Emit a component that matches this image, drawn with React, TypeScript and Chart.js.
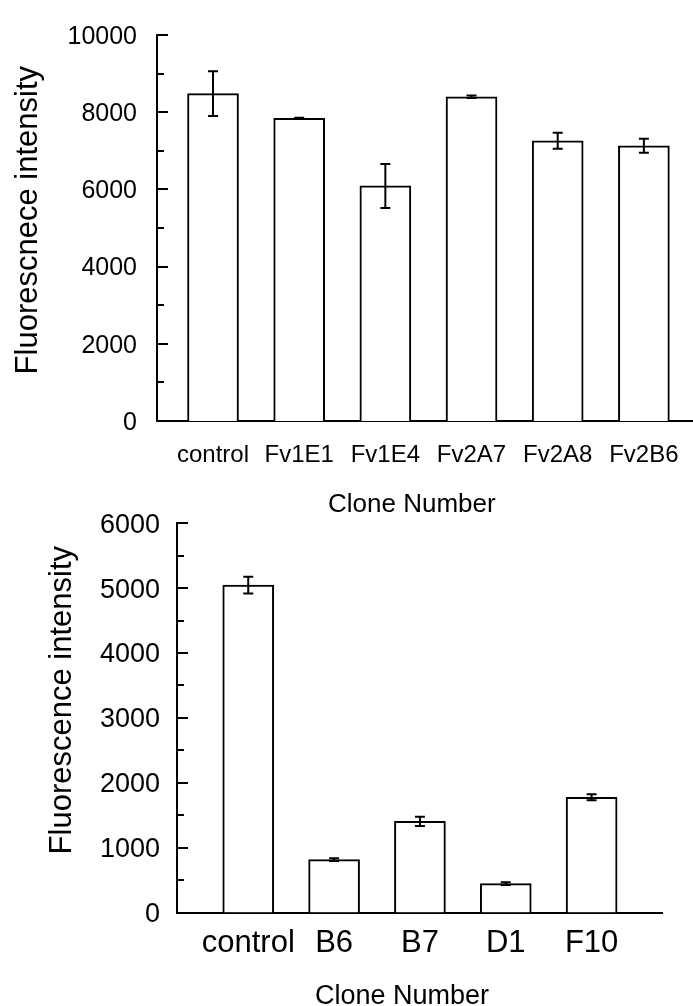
import React, { useEffect, useRef } from 'react';
import { Chart, registerables } from 'chart.js';

Chart.register(...registerables);

const FONT = '"Liberation Sans", Arial, Helvetica, sans-serif';

// ---- Top chart data ----
const topCategories = ['control', 'Fv1E1', 'Fv1E4', 'Fv2A7', 'Fv2A8', 'Fv2B6'];
const topValues = [8480, 7840, 6090, 8400, 7260, 7130];
const topErrors = [580, 15, 570, 30, 210, 180];
const topYTickLabels = [0, 2000, 4000, 6000, 8000, 10000];
const topYTitle = 'Fluorescnece intensity';
const topXTitle = 'Clone Number';

// ---- Bottom chart data ----
const bottomCategories = ['control', 'B6', 'B7', 'D1', 'F10'];
const bottomValues = [5045, 815, 1405, 445, 1776];
const bottomErrors = [130, 20, 70, 20, 45];
const bottomYTickLabels = [0, 1000, 2000, 3000, 4000, 5000, 6000];
const bottomYTitle = 'Fluorescence intensity';
const bottomXTitle = 'Clone Number';

type Spec = {
  categories: string[];
  values: number[];
  errors: number[];
  yLabels: number[];
  yMax: number;
  yMinorStep: number;
  xMin: number;
  xMax: number;
  width: number;
  height: number;
  padTop: number;
  padRight: number;
  yWidth: number;
  xHeight: number;
  yTickFont: number;
  yTickPad: number;
  xTickFont: number;
  xTickPad: number;
  yTitle: string;
  yTitleFont: number;
  yTitleBaselineX: number;
  yTitleTopY: number;
  xTitle: string;
  xTitleFont: number;
  xTitleLeftX: number;
  xTitleBaselineY: number;
};

function buildChart(canvas: HTMLCanvasElement, s: Spec) {
  const errorBars = {
    id: 'errorBars',
    afterDatasetsDraw(chart: any) {
      const meta = chart.getDatasetMeta(0);
      const ys = chart.scales.y;
      const ctx = chart.ctx;
      ctx.save();
      ctx.strokeStyle = '#000';
      ctx.lineWidth = 2;
      meta.data.forEach((bar: any, i: number) => {
        const v = s.values[i];
        const e = s.errors[i];
        const x = bar.x;
        const yt = ys.getPixelForValue(v + e);
        const yb = ys.getPixelForValue(v - e);
        ctx.beginPath();
        ctx.moveTo(x, yt);
        ctx.lineTo(x, yb);
        ctx.moveTo(x - 5, yt);
        ctx.lineTo(x + 5, yt);
        ctx.moveTo(x - 5, yb);
        ctx.lineTo(x + 5, yb);
        ctx.stroke();
      });
      ctx.restore();
    },
  };

  const innerTicks = {
    id: 'innerTicks',
    afterDraw(chart: any) {
      const ys = chart.scales.y;
      const left = chart.chartArea.left;
      const ctx = chart.ctx;
      ctx.save();
      ctx.strokeStyle = '#000';
      ctx.lineWidth = 2;
      ys.ticks.forEach((t: any) => {
        const py = Math.round(ys.getPixelForValue(t.value));
        const len = s.yLabels.includes(t.value) ? 11 : 7;
        ctx.beginPath();
        ctx.moveTo(left - 1, py);
        ctx.lineTo(left + len, py);
        ctx.stroke();
      });
      ctx.restore();
    },
  };

  const axisTitles = {
    id: 'axisTitles',
    afterDraw(chart: any) {
      const ctx = chart.ctx;
      ctx.save();
      ctx.fillStyle = '#000';
      ctx.font = `${s.xTitleFont}px ${FONT}`;
      ctx.textAlign = 'left';
      ctx.textBaseline = 'alphabetic';
      ctx.fillText(s.xTitle, s.xTitleLeftX, s.xTitleBaselineY);
      ctx.translate(s.yTitleBaselineX, s.yTitleTopY);
      ctx.rotate(-Math.PI / 2);
      ctx.font = `${s.yTitleFont}px ${FONT}`;
      ctx.textAlign = 'right';
      ctx.textBaseline = 'alphabetic';
      ctx.fillText(s.yTitle, 0, 0);
      ctx.restore();
    },
  };

  return new Chart(canvas, {
    type: 'bar',
    data: {
      datasets: [
        {
          data: s.values.map((v, i) => ({ x: i, y: v })),
          backgroundColor: '#ffffff',
          borderColor: '#000000',
          borderWidth: 2,
          borderSkipped: 'bottom',
          barThickness: 51,
        },
      ],
    },
    options: {
      animation: false,
      responsive: false,
      devicePixelRatio: 1,
      layout: { padding: { top: s.padTop, right: s.padRight, left: 0, bottom: 0 } },
      plugins: {
        legend: { display: false },
        tooltip: { enabled: false },
        title: { display: false },
      },
      scales: {
        x: {
          type: 'linear',
          min: s.xMin,
          max: s.xMax,
          offset: false,
          bounds: 'data',
          z: 1,
          grid: { display: false, drawTicks: false, offset: false },
          border: { display: true, color: '#000', width: 2 },
          afterBuildTicks: (scale: any) => {
            scale.ticks = s.categories.map((_, i) => ({ value: i }));
          },
          afterFit: (scale: any) => {
            scale.height = s.xHeight;
            scale.paddingLeft = 0;
            scale.paddingRight = 0;
          },
          ticks: {
            autoSkip: false,
            maxRotation: 0,
            minRotation: 0,
            padding: s.xTickPad,
            color: '#000',
            font: { family: FONT, size: s.xTickFont },
            callback: (v: any) => s.categories[Math.round(Number(v))] ?? '',
          },
        },
        y: {
          type: 'linear',
          min: 0,
          max: s.yMax,
          grid: { display: false, drawTicks: false },
          border: { display: true, color: '#000', width: 2 },
          afterFit: (scale: any) => {
            scale.width = s.yWidth;
          },
          ticks: {
            stepSize: s.yMinorStep,
            autoSkip: false,
            padding: s.yTickPad,
            labelOffset: 2,
            color: '#000',
            font: { family: FONT, size: s.yTickFont },
            callback: (v: any) => (s.yLabels.includes(Number(v)) ? String(v) : ''),
          },
        },
      },
    } as any,
    plugins: [errorBars, innerTicks, axisTitles],
  });
}

const topSpec: Spec = {
  categories: topCategories,
  values: topValues,
  errors: topErrors,
  yLabels: topYTickLabels,
  yMax: 10000,
  yMinorStep: 1000,
  xMin: -0.65,
  xMax: 5.57,
  width: 693,
  height: 520,
  padTop: 25,
  padRight: 0,
  yWidth: 157,
  xHeight: 99,
  yTickFont: 25,
  yTickPad: 20,
  xTickFont: 24,
  xTickPad: 20,
  yTitle: topYTitle,
  yTitleFont: 31,
  yTitleBaselineX: 37,
  yTitleTopY: 66,
  xTitle: topXTitle,
  xTitleFont: 26,
  xTitleLeftX: 328,
  xTitleBaselineY: 512,
};

const BOTTOM_TOP = 490;

const bottomSpec: Spec = {
  categories: bottomCategories,
  values: bottomValues,
  errors: bottomErrors,
  yLabels: bottomYTickLabels,
  yMax: 6000,
  yMinorStep: 500,
  xMin: -0.83,
  xMax: 4.82,
  width: 693,
  height: 516,
  padTop: 29,
  padRight: 31,
  yWidth: 177,
  xHeight: 93.5,
  yTickFont: 27,
  yTickPad: 17,
  xTickFont: 31,
  xTickPad: 12,
  yTitle: bottomYTitle,
  yTitleFont: 31,
  yTitleBaselineX: 71,
  yTitleTopY: 546 - BOTTOM_TOP,
  xTitle: bottomXTitle,
  xTitleFont: 27,
  xTitleLeftX: 315,
  xTitleBaselineY: 1004 - BOTTOM_TOP,
};

function BarPanel({ spec, top }: { spec: Spec; top: number }) {
  const ref = useRef<HTMLCanvasElement | null>(null);
  useEffect(() => {
    if (!ref.current) return;
    const chart = buildChart(ref.current, spec);
    return () => chart.destroy();
  }, [spec]);
  return (
    <canvas
      ref={ref}
      width={spec.width}
      height={spec.height}
      style={{
        position: 'absolute',
        left: 0,
        top,
        width: spec.width,
        height: spec.height,
      }}
    />
  );
}

export default function App() {
  useEffect(() => {
    document.body.style.margin = '0';
    document.body.style.background = '#ffffff';
  }, []);
  return (
    <div style={{ position: 'relative', width: 693, height: 1006, background: '#fff', overflow: 'hidden' }}>
      <BarPanel spec={topSpec} top={0} />
      <BarPanel spec={bottomSpec} top={BOTTOM_TOP} />
    </div>
  );
}
